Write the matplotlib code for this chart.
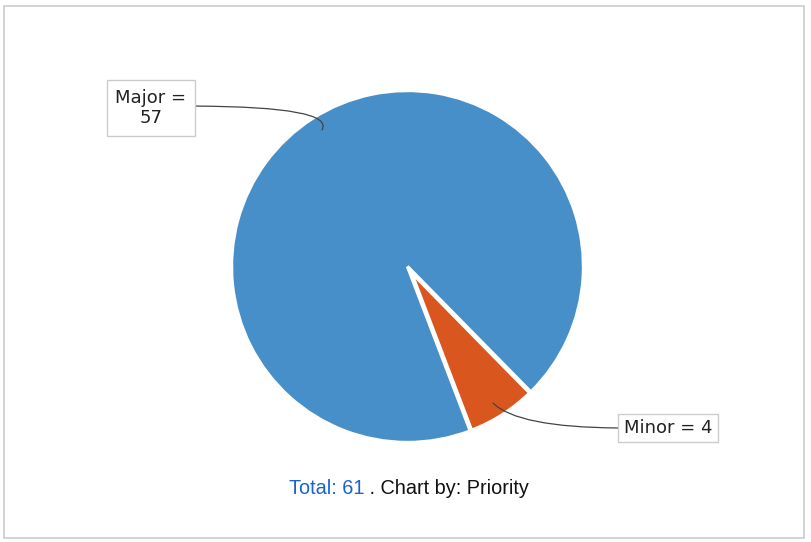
import matplotlib
matplotlib.use("Agg")
import matplotlib.pyplot as plt
from matplotlib.patches import Rectangle

labels = ["Major", "Minor"]
values = [57, 4]
colors = ["#478FC8", "#D9561F"]
total_label = "Total: 61"
footer = " . Chart by: Priority"

W, H = 812, 542
fig = plt.figure(figsize=(W / 100, H / 100), dpi=100)
ax = fig.add_axes([0, 0, 1, 1])

cx, cy, r = 407.5, H - 266.5, 176
shift = 7
wedges, _ = ax.pie(values, colors=colors, startangle=-45.5, counterclock=True,
                   explode=[0, shift], center=(cx, cy), radius=r,
                   wedgeprops=dict(edgecolor="white", linewidth=2.4, joinstyle="miter"))
wedges[1].set_radius(r - shift)
ax.set_xlim(0, W)
ax.set_ylim(0, H)
ax.set_aspect("equal")
ax.axis("off")

box = dict(boxstyle="square,pad=0.3", facecolor="white", edgecolor="#cccccc", linewidth=1)
box2 = dict(boxstyle="square,pad=0.45", facecolor="white", edgecolor="#cccccc", linewidth=1)
arrow = dict(arrowstyle="-", color="#444444", lw=0.9, shrinkA=0, shrinkB=0)

ax.annotate(f"{labels[0]} =\n{values[0]}", xy=(322, H - 130), xytext=(151, H - 108),
            ha="center", va="center", fontsize=13, family="DejaVu Sans", color="#222222",
            linespacing=1.2, bbox=box2,
            arrowprops=dict(arrow, connectionstyle="angle3,angleA=0,angleB=60", relpos=(1, 0.55)))
ax.annotate(f"{labels[1]} = {values[1]}", xy=(493, H - 403), xytext=(668, H - 428),
            ha="center", va="center", fontsize=13, family="DejaVu Sans", color="#222222",
            bbox=box,
            arrowprops=dict(arrow, connectionstyle="angle3,angleA=0,angleB=-45", relpos=(0, 0.5)))

t1 = ax.text(289, H - 489, total_label, ha="left", va="center", fontsize=14.3,
             family="Liberation Sans", color="#1A62D2")
ax.annotate(footer, xy=(1, 0), xycoords=t1, va="bottom", ha="left", fontsize=14.3,
            family="Liberation Sans", color="#111111")

ax.add_patch(Rectangle((4.5, 4.5), W - 12, H - 10, fill=False, edgecolor="#cccccc",
                       linewidth=1.2, clip_on=False))

fig.savefig("out.png", dpi=100)
